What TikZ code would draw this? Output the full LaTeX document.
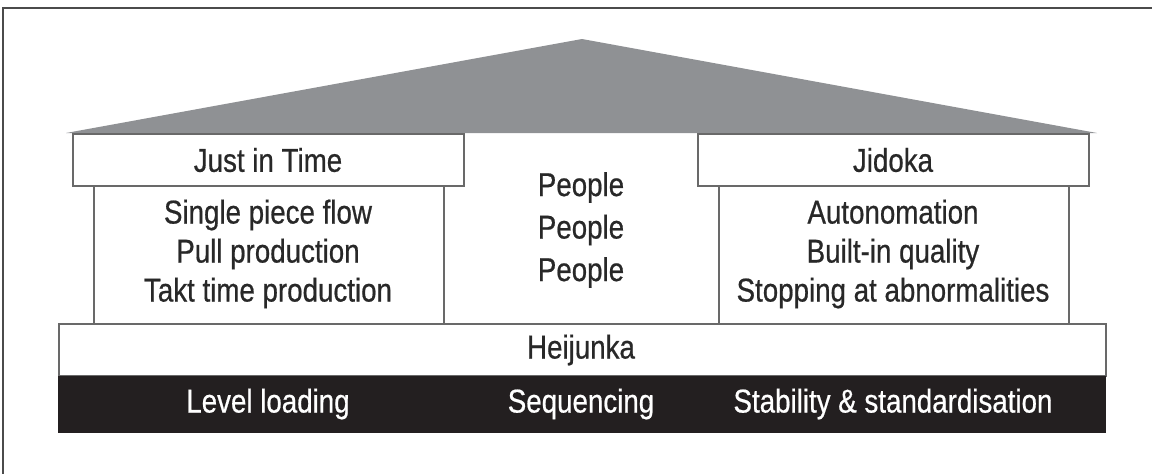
\documentclass[tikz,border=0pt]{standalone}
\usepackage{fontspec}
\newfontfamily\housefont[FakeStretch=0.84,FakeBold=0.6]{Liberation Sans}
\definecolor{roofgray}{RGB}{143,145,148}
\definecolor{linegray}{RGB}{105,105,105}
\definecolor{framegray}{RGB}{75,75,75}
\definecolor{bargray}{RGB}{35,31,32}
\definecolor{textgray}{RGB}{40,40,40}
\tikzset{
  housebox/.style={draw=linegray, line width=1.6pt, fill=white, inner sep=0pt, anchor=north west},
  housetext/.style={font=\housefont\fontsize{33}{39}\selectfont, text=textgray, align=center, inner sep=0pt},
  bartext/.style={font=\housefont\fontsize{33}{39}\selectfont, text=white, inner sep=0pt},
}
\begin{document}
\begin{tikzpicture}[x=1pt,y=-1pt]
\useasboundingbox (0,0) rectangle (1152,474);
% frame (top and left edges visible)
\coordinate (fbl) at (3,474);
\coordinate (ftl) at (3,8);
\coordinate (ftr) at (1152,8);
\draw[framegray, line width=2pt] (fbl) -- (ftl) -- (ftr);
% roof
\coordinate (rl) at (66,133);
\coordinate (ra) at (582,39);
\coordinate (rr) at (1097,133);
\fill[roofgray] (rl) -- (ra) -- (rr) -- cycle;
% pillars
\node[housebox, minimum width=350pt, minimum height=138pt] (lp) at (93,185) {};
\node[housebox, minimum width=350pt, minimum height=138pt] (rp) at (718,185) {};
% beams
\node[housebox, minimum width=391pt, minimum height=52pt] (jit) at (72,133) {};
\node[housebox, minimum width=391pt, minimum height=52pt] (jid) at (697,133) {};
% base
\node[housebox, minimum width=1047pt, minimum height=52pt] (hei) at (58,323) {};
\node[draw=bargray, fill=bargray, line width=1pt, inner sep=0pt, anchor=north west, minimum width=1047pt, minimum height=56pt] (bar) at (58,376) {};
% texts
\node[housetext] (tjit) at (268,160) {Just in Time};
\node[housetext] (tjid) at (893,160) {Jidoka};
\node[housetext] (tlp) at (268,254) {Single piece flow\\Pull production\\Takt time production};
\node[housetext] (trp) at (893,254) {Autonomation\\Built-in quality\\Stopping at abnormalities};
\node[housetext, font=\housefont\fontsize{33}{42.5}\selectfont] (tpeople) at (581,230) {People\\People\\People};
\node[housetext] (thei) at (581,350) {Heijunka};
\node[bartext] (tlevel) at (268,404) {Level loading};
\node[bartext] (tseq) at (581,404) {Sequencing};
\node[bartext] (tstab) at (893,404) {Stability \& standardisation};
\end{tikzpicture}
\end{document}
